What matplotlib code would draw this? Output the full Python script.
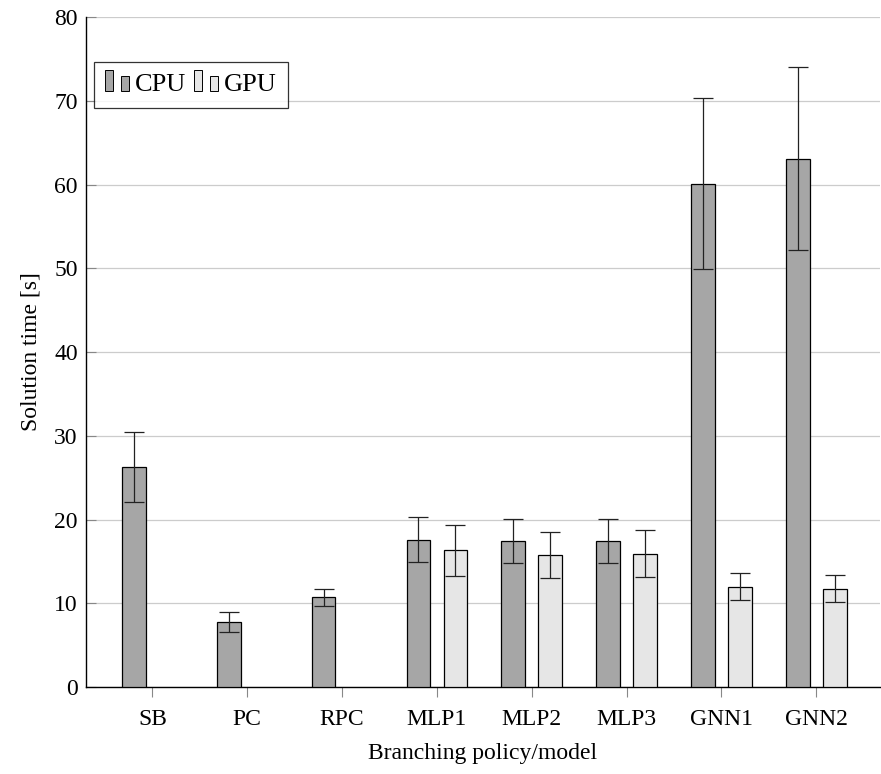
import numpy as np
import matplotlib
matplotlib.use("Agg")
import matplotlib.pyplot as plt
from matplotlib.patches import Rectangle
from matplotlib.legend_handler import HandlerBase

plt.rcParams["font.family"] = ["Liberation Serif", "DejaVu Serif"]

# data
models = ["SB", "PC", "RPC", "MLP1", "MLP2", "MLP3", "GNN1", "GNN2"]
cpu_time = [26.3, 7.8, 10.7, 17.6, 17.4, 17.4, 60.1, 63.1]
cpu_err = [4.2, 1.2, 1.0, 2.65, 2.65, 2.65, 10.2, 10.95]
gpu_time = [np.nan, np.nan, np.nan, 16.3, 15.8, 15.9, 12.0, 11.75]
gpu_err = [np.nan, np.nan, np.nan, 3.0, 2.75, 2.8, 1.6, 1.65]

cpu_color = "#a6a6a6"
gpu_color = "#e6e6e6"


# pgfplots style legend image: two little bars
class TwoBars(HandlerBase):
    def create_artists(self, legend, orig_handle, xdescent, ydescent,
                       width, height, fontsize, trans):
        fc = orig_handle.get_facecolor()
        w = width / 3.0
        y0 = -ydescent + 0.5
        r1 = Rectangle((-xdescent, y0), w, 15.0,
                       facecolor=fc, edgecolor="black", lw=0.7, transform=trans)
        r2 = Rectangle((-xdescent + 2 * w, y0), w, 10.8,
                       facecolor=fc, edgecolor="black", lw=0.7, transform=trans)
        return [r1, r2]


fig = plt.figure(figsize=(8.81, 7.74), dpi=100)
ax = fig.add_axes([0.0976, 0.1124, 0.901, 0.8656])

x = np.arange(len(models))
bw = 0.25
off = 0.195

ax.bar(x - off, cpu_time, bw, color=cpu_color, edgecolor="black", linewidth=0.9,
       zorder=3)
ax.bar(x + off, gpu_time, bw, color=gpu_color, edgecolor="black", linewidth=0.9,
       zorder=3)
ax.errorbar(x - off, cpu_time, yerr=cpu_err, fmt="none", ecolor="#222222",
            elinewidth=0.9, capsize=7, capthick=0.9, zorder=4)
ax.errorbar(x + off, gpu_time, yerr=gpu_err, fmt="none", ecolor="#222222",
            elinewidth=0.9, capsize=7, capthick=0.9, zorder=4)

ax.set_xlim(-0.7, 7.67)
ax.set_ylim(0, 80)
ax.set_yticks(range(0, 81, 10))
ax.set_xticks(x)
ax.set_xticklabels(models)

ax.grid(axis="y", color="#cccccc", linewidth=0.9, zorder=0)
ax.spines["top"].set_visible(False)
ax.spines["right"].set_visible(False)
ax.spines["left"].set_linewidth(1.0)
ax.spines["bottom"].set_linewidth(1.0)
ax.tick_params(axis="y", direction="in", length=7, color="#888888",
               labelsize=17, pad=6)
ax.tick_params(axis="x", direction="out", length=7, color="#888888",
               labelsize=17, pad=9)

ax.set_ylabel("Solution time [s]", fontsize=17, labelpad=9)
ax.set_xlabel("Branching policy/model", fontsize=17, labelpad=9)

h_cpu = Rectangle((0, 0), 1, 1, facecolor=cpu_color)
h_gpu = Rectangle((0, 0), 1, 1, facecolor=gpu_color)
leg = ax.legend([h_cpu, h_gpu], ["CPU", "GPU"], loc="upper left",
                bbox_to_anchor=(0.01, 0.933),
                ncol=2, fontsize=19, frameon=True, fancybox=False,
                handler_map={Rectangle: TwoBars()},
                handlelength=0.91, handletextpad=0.23, columnspacing=0.3,
                borderpad=0.42, borderaxespad=0)
leg.get_frame().set_edgecolor("black")
leg.get_frame().set_linewidth(0.9)

fig.savefig("out.png", dpi=100)
